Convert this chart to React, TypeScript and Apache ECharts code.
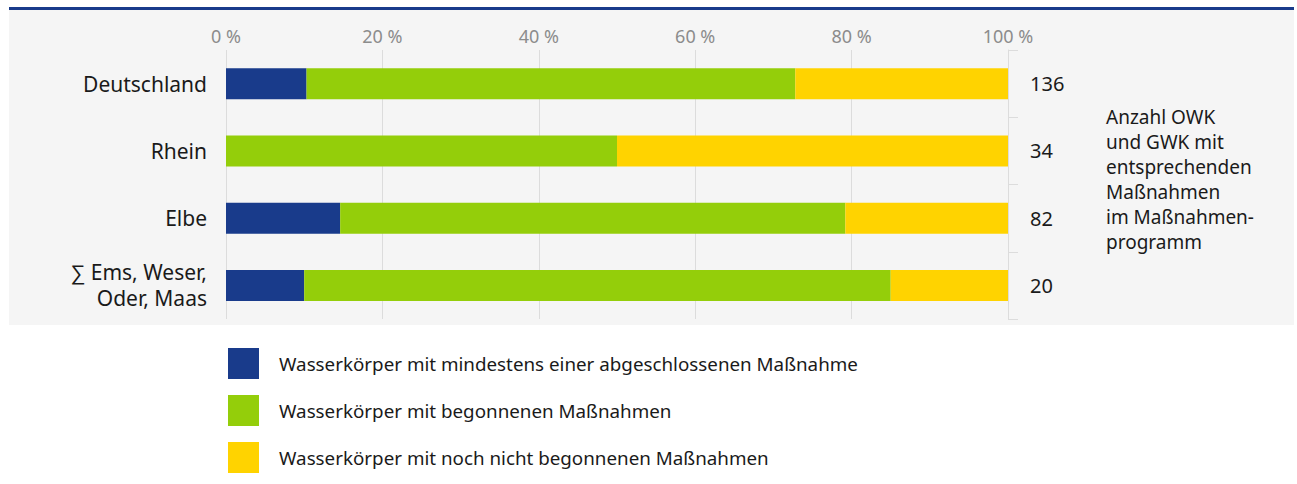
import React, { useEffect, useRef } from "react";
import * as echarts from "echarts";

const categories = ["Deutschland", "Rhein", "Elbe", "∑ Ems, Weser,\nOder, Maas"];
const counts = ["136", "34", "82", "20"];
const seriesNames = [
  "Wasserkörper mit mindestens einer abgeschlossenen Maßnahme",
  "Wasserkörper mit begonnenen Maßnahmen",
  "Wasserkörper mit noch nicht begonnenen Maßnahmen",
];
const completed = [10.3, 0, 14.6, 10];
const started = [62.5, 50, 64.6, 75];
const notStarted = [27.2, 50, 20.8, 15];
const xTicks = [0, 20, 40, 60, 80, 100];
const colors = ["#193b8b", "#94ce0a", "#ffd300"];
const sideNote = "Anzahl OWK\nund GWK mit\nentsprechenden\nMaßnahmen\nim Maßnahmen-\nprogramm";

const FONT = "'Noto Sans', sans-serif";

export default function App() {
  const ref = useRef<HTMLDivElement>(null);
  useEffect(() => {
    if (!ref.current) return;
    const chart = echarts.init(ref.current, undefined, { renderer: "svg" });
    const values = [completed, started, notStarted];
    chart.setOption({
      animation: false,
      textStyle: { fontFamily: FONT },
      graphic: [
        { type: "rect", z: -10, shape: { x: 9, y: 9, width: 1285, height: 316 }, style: { fill: "#f5f5f5" } },
        { type: "rect", z: 10, shape: { x: 9, y: 7, width: 1285, height: 3 }, style: { fill: "#193b8b" } },
        {
          type: "text",
          left: 1106,
          top: 104,
          style: { text: sideNote, font: `19px ${FONT}`, fill: "#1a1a1a", lineHeight: 25 },
        },
      ],
      grid: { left: 226, right: 289, top: 50, height: 269 },
      legend: {
        orient: "vertical",
        left: 228,
        top: 348,
        padding: 0,
        itemWidth: 31,
        itemHeight: 31,
        itemGap: 16,
        icon: "rect",
        textStyle: { fontSize: 18.8, color: "#1a1a1a", fontFamily: FONT, padding: [0, 0, 0, 15] },
        data: seriesNames,
      },
      xAxis: {
        type: "value",
        position: "top",
        min: xTicks[0],
        max: xTicks[xTicks.length - 1],
        interval: 20,
        axisLine: { show: false },
        axisTick: { show: false },
        splitLine: { lineStyle: { color: "#dcdcdc", width: 1 } },
        axisLabel: { formatter: "{value} %", color: "#8c8c8c", fontSize: 18, margin: 5 },
      },
      yAxis: [
        {
          type: "category",
          inverse: true,
          data: categories,
          axisLine: { show: false },
          axisTick: { show: false },
          axisLabel: { color: "#1a1a1a", fontSize: 21, margin: 19, lineHeight: 26, align: "right" },
        },
        {
          type: "category",
          inverse: true,
          position: "right",
          data: counts,
          axisLine: { show: true, lineStyle: { color: "#dcdcdc", width: 1 } },
          axisTick: { show: true, length: 10, inside: false, lineStyle: { color: "#dcdcdc" } },
          axisLabel: { color: "#1a1a1a", fontSize: 20, margin: 22 },
        },
      ],
      series: seriesNames.map((name, i) => ({
        name,
        type: "bar",
        stack: "total",
        barWidth: 31,
        yAxisIndex: 0,
        itemStyle: { color: colors[i] },
        data: values[i],
      })),
    });
    return () => chart.dispose();
  }, []);
  return (
    <div
      ref={ref}
      style={{ position: "absolute", left: 0, top: 0, width: 1297, height: 484 }}
    />
  );
}
